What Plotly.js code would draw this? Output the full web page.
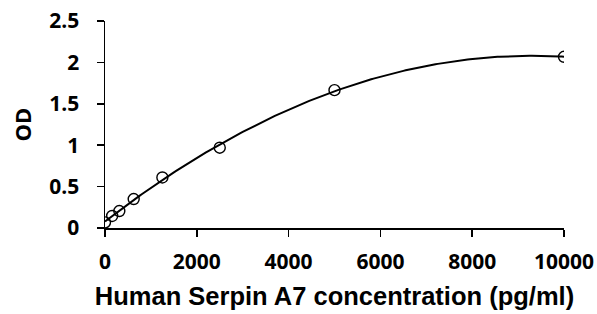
<!DOCTYPE html>
<html><head><meta charset="utf-8">
<script src="https://cdn.plot.ly/plotly-3.0.1.min.js"></script>
<style>html,body{margin:0;padding:0;background:#fff}</style>
</head><body><div id="chart" style="width:597px;height:314px"></div>
<script>
const concentration = [0, 156, 312, 625, 1250, 2500, 5000, 10000];
const od = [0.068, 0.145, 0.205, 0.35, 0.61, 0.97, 1.665, 2.068];
const xTicks = [0, 2000, 4000, 6000, 8000, 10000];
const yTicks = [0, 0.5, 1, 1.5, 2, 2.5];
const yTickText = ['0', '0.5', '1', '1.5', '2', '2.5'];

// Second-order polynomial trendline (least squares) fitted to the points above
function polyFit(xs, ys, order) {
  const n = order + 1;
  const s = 1e4; // scale x for numerical stability
  const A = Array.from({length: n}, () => new Array(n + 1).fill(0));
  xs.forEach((xv, k) => {
    const x = xv / s;
    for (let i = 0; i < n; i++) {
      for (let j = 0; j < n; j++) A[i][j] += Math.pow(x, i + j);
      A[i][n] += ys[k] * Math.pow(x, i);
    }
  });
  for (let i = 0; i < n; i++) {
    let p = i;
    for (let r = i + 1; r < n; r++) if (Math.abs(A[r][i]) > Math.abs(A[p][i])) p = r;
    [A[i], A[p]] = [A[p], A[i]];
    for (let r = 0; r < n; r++) {
      if (r === i) continue;
      const f = A[r][i] / A[i][i];
      for (let c = i; c <= n; c++) A[r][c] -= f * A[i][c];
    }
  }
  const coef = A.map((row, i) => row[n] / row[i]);
  return xv => coef.reduce((acc, c, i) => acc + c * Math.pow(xv / s, i), 0);
}
const fit = polyFit(concentration, od, 2);
const xMax = concentration[concentration.length - 1];
const fitX = [], fitY = [];
for (let i = 0; i <= 200; i++) { const xv = xMax * i / 200; fitX.push(xv); fitY.push(fit(xv)); }

const tickFont = {family: '"Open Sans", sans-serif', size: 21, color: '#000', weight: 700};

const traces = [
  {x: fitX, y: fitY, mode: 'lines', type: 'scatter',
   line: {color: '#000', width: 2}, hoverinfo: 'skip', showlegend: false},
  {x: concentration, y: od, mode: 'markers', type: 'scatter',
   marker: {symbol: 'circle-open', size: 11, color: '#000', line: {width: 1.4, color: '#000'}}, showlegend: false}
];

const layout = {
  width: 597, height: 314,
  margin: {l: 105, r: 33, t: 21, b: 86},
  paper_bgcolor: '#fff', plot_bgcolor: '#fff',
  xaxis: {range: [0, 10000], tickvals: xTicks, ticktext: xTicks.map(String),
    showgrid: false, zeroline: false, showline: true, linecolor: '#000', linewidth: 1.5,
    ticks: 'outside', ticklen: 7, tickwidth: 1.5, tickcolor: '#000', tickfont: tickFont,
    ticklabelstandoff: 7,
    title: {text: 'Human Serpin A7 concentration (pg/ml)', standoff: 13,
      font: {family: '"Liberation Sans", Arial, sans-serif', size: 25.5, color: '#000', weight: 700}}},
  yaxis: {range: [0, 2.5], tickvals: yTicks, ticktext: yTickText,
    showgrid: false, zeroline: false, showline: true, linecolor: '#000', linewidth: 1.5,
    ticks: 'outside', ticklen: 7, tickwidth: 1.5, tickcolor: '#000', tickfont: tickFont,
    ticklabelstandoff: 13,
    title: {text: 'OD', standoff: 11,
      font: {family: '"Open Sans", sans-serif', size: 22, color: '#000', weight: 700}}},
  font: {family: '"Open Sans", sans-serif', color: '#000'}
};
Plotly.newPlot('chart', traces, layout, {staticPlot: true, displayModeBar: false});
</script></body></html>
